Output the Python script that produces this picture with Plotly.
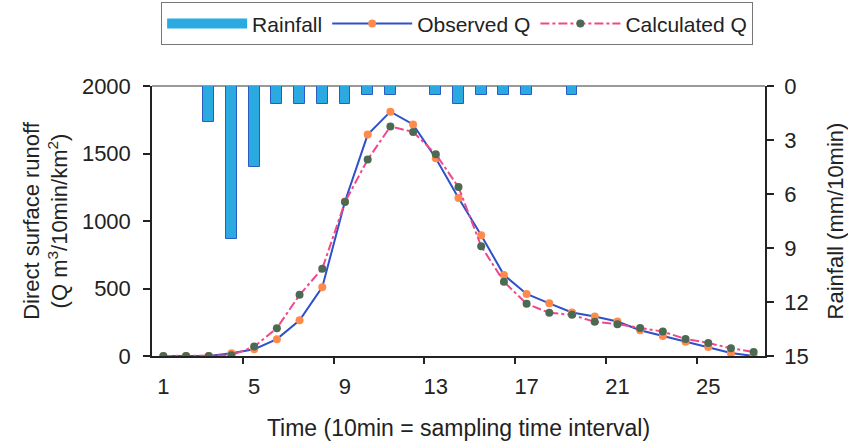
import plotly.graph_objects as go

time = list(range(1, 28))
rainfall = [0, 0, 2, 8.5, 4.5, 1, 1, 1, 1, 0.5, 0.5, 0, 0.5, 1, 0.5, 0.5, 0.5, 0, 0.5, 0, 0, 0, 0, 0, 0, 0, 0]
observed_q = [0, 0, 0, 20, 50, 125, 265, 510, 1145, 1640, 1810, 1715, 1465, 1170, 895, 600, 460, 390, 322,
              292, 255, 191, 149, 106, 67, 22, 0]
calculated_q = [0, 0, 0, 5, 70, 206, 453, 647, 1140, 1455, 1700, 1660, 1495, 1251, 813, 550, 387, 320, 305,
                253, 236, 208, 181, 126, 97, 57, 30]
x_labels = [1, 5, 9, 13, 17, 21, 25]
x_boundaries = [4.5, 8.5, 12.5, 16.5, 20.5, 24.5]
q_ticks = [0, 500, 1000, 1500, 2000]
rain_ticks = [0, 3, 6, 9, 12, 15]

FONT = "Liberation Sans, Arial, sans-serif"
TXT = "#222222"

fig = go.Figure()

# rainfall bars (hanging from top, reversed right axis)
fig.add_trace(go.Bar(
    x=time, y=rainfall, yaxis="y2", width=0.48,
    marker=dict(color="#2AAAE0", line=dict(color="#2A5CC0", width=1)),
    showlegend=False, name="Rainfall",
))
# legend stand-in for the rainfall swatch
fig.add_trace(go.Scatter(
    x=[None], y=[None], mode="lines", name="Rainfall",
    line=dict(color="#2AAAE0", width=13),
))
fig.add_trace(go.Scatter(
    x=time, y=observed_q, mode="lines+markers", name="Observed Q",
    line=dict(color="#2E50C8", width=2),
    marker=dict(color="#FF8A4C", size=8),
))
fig.add_trace(go.Scatter(
    x=time, y=calculated_q, mode="lines+markers", name="Calculated Q",
    line=dict(color="#F0488A", width=2, dash="dashdot"),
    marker=dict(color="#4C6A52", size=8),
))
# invisible trace on tick-only axis
fig.add_trace(go.Scatter(x=[None], y=[None], xaxis="x2", showlegend=False, hoverinfo="skip"))

fig.update_layout(
    width=848, height=447,
    margin=dict(l=152, r=83, t=86, b=91, autoexpand=False),
    paper_bgcolor="white", plot_bgcolor="white",
    font=dict(family=FONT, size=22, color=TXT),
    bargap=0,
    xaxis=dict(
        range=[0.5, 27.5], tickmode="array", tickvals=x_labels,
        ticks="", showline=True, linecolor="#222", linewidth=1.5,
        showgrid=False, zeroline=False, ticklabelstandoff=10, automargin=False,
        tickfont=dict(size=22),
        title=dict(text="Time (10min = sampling time interval)", standoff=22,
                   font=dict(size=23)),
    ),
    xaxis2=dict(
        overlaying="x", matches="x", side="bottom", range=[0.5, 27.5],
        tickmode="array", tickvals=x_boundaries, ticks="outside", ticklen=7,
        tickcolor="#222", tickwidth=1.5, showticklabels=False, automargin=False,
        showline=False, showgrid=False, zeroline=False,
    ),
    yaxis=dict(
        range=[0, 2000], tickmode="array", tickvals=q_ticks,
        ticks="outside", ticklen=7, tickcolor="#222", tickwidth=1.5,
        showline=True, linecolor="#222", linewidth=1.5, automargin=False,
        showgrid=False, zeroline=False, ticklabelstandoff=8,
        tickfont=dict(size=22),
        title=dict(text="Direct surface runoff<br>(Q m<sup>3</sup>/10min/km<sup>2</sup>)",
                   standoff=8, font=dict(size=22)),
    ),
    yaxis2=dict(
        overlaying="y", side="right", range=[15, 0],
        tickmode="array", tickvals=rain_ticks,
        ticks="outside", ticklen=7, tickcolor="#222", tickwidth=1.5,
        showline=True, linecolor="#222", linewidth=1.5, automargin=False,
        showgrid=False, zeroline=True, zerolinecolor="#9A9A9A", zerolinewidth=1.5,
        ticklabelstandoff=6, tickfont=dict(size=22),
        title=dict(text="Rainfall (mm/10min)", standoff=20, font=dict(size=22)),
    ),
    legend=dict(
        orientation="h", xref="container", yref="container",
        x=0.19, y=0.995, xanchor="left", yanchor="top",
        bordercolor="#777", borderwidth=1, bgcolor="white",
        font=dict(size=21, color=TXT), itemwidth=80,
        tracegroupgap=0,
    ),
)

fig.write_html("out.html")
